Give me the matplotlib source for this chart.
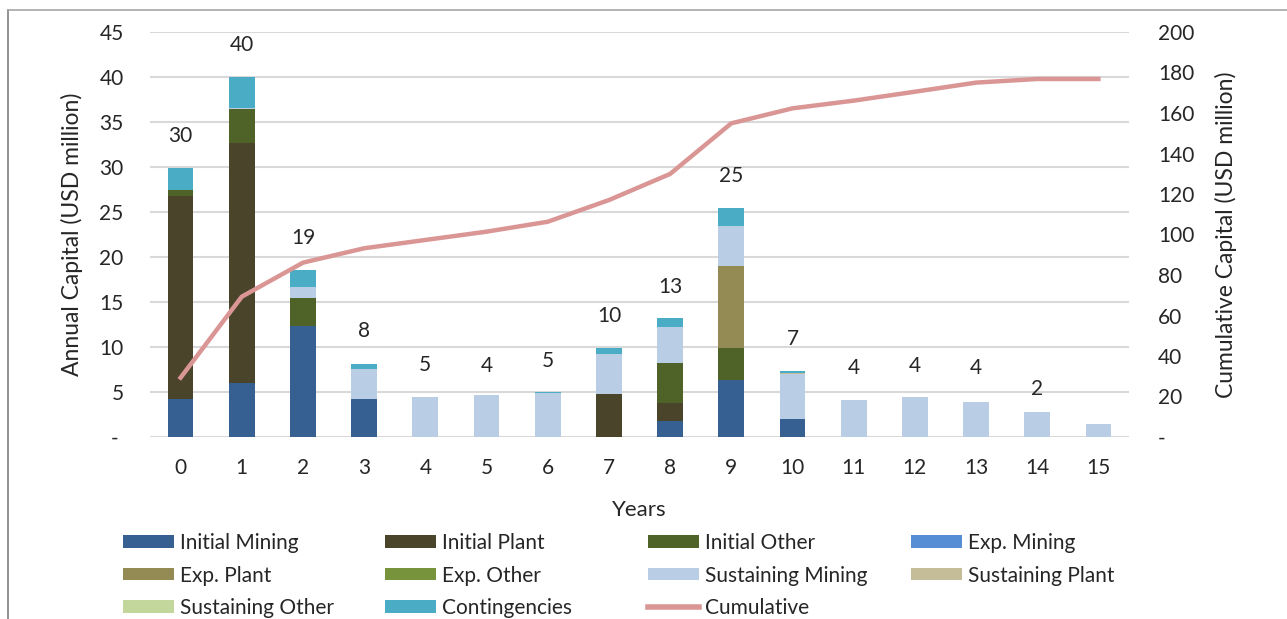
import matplotlib.pyplot as plt
import numpy as np
from matplotlib.lines import Line2D
from matplotlib.patches import Patch

plt.rcParams['font.family'] = ['Lato', 'DejaVu Sans']

years = list(range(16))
initial_mining = [4.2, 6.0, 12.3, 4.2, 0, 0, 0, 0, 1.8, 6.3, 2.0, 0, 0, 0, 0, 0]
initial_plant = [22.6, 26.7, 0, 0, 0, 0, 0, 4.8, 2.0, 0, 0, 0, 0, 0, 0, 0]
initial_other = [0.6, 3.7, 3.1, 0, 0, 0, 0, 0, 4.4, 3.6, 0, 0, 0, 0, 0, 0]
exp_mining = [0] * 16
exp_plant = [0, 0, 0, 0, 0, 0, 0, 0, 0, 9.1, 0, 0, 0, 0, 0, 0]
exp_other = [0] * 16
sust_mining = [0, 0.2, 1.3, 3.4, 4.5, 4.7, 4.85, 4.4, 4.0, 4.5, 5.0, 4.1, 4.4, 3.9, 2.8, 1.4]
sust_plant = [0, 0, 0, 0, 0, 0, 0, 0, 0, 0, 0.15, 0, 0, 0, 0, 0]
sust_other = [0] * 16
contingencies = [2.45, 3.4, 1.85, 0.55, 0, 0, 0.1, 0.65, 1.0, 2.0, 0.2, 0, 0, 0, 0, 0]
cumulative = [29.3, 69.3, 86.1, 93.2, 97.3, 101.4, 106.3, 117.0, 129.9, 154.9,
              162.3, 166.1, 170.5, 175.0, 176.8, 176.8]

label_years = list(range(15))
label_heights = [29.9, 40.0, 18.6, 8.2, 4.45, 4.3, 4.9, 9.85, 13.15, 25.5, 7.3, 4.1, 4.3, 4.1, 1.8]
label_text = ['30', '40', '19', '8', '5', '4', '5', '10', '13', '25', '7', '4', '4', '4', '2']

series = [
    ('Initial Mining', initial_mining, '#376092'),
    ('Initial Plant', initial_plant, '#4A452A'),
    ('Initial Other', initial_other, '#4F6228'),
    ('Exp. Mining', exp_mining, '#558ED5'),
    ('Exp. Plant', exp_plant, '#948A54'),
    ('Exp. Other', exp_other, '#77933C'),
    ('Sustaining Mining', sust_mining, '#B9CDE5'),
    ('Sustaining Plant', sust_plant, '#C4BD97'),
    ('Sustaining Other', sust_other, '#C3D69B'),
    ('Contingencies', contingencies, '#4BACC6'),
]
line_color = '#DA9694'
txt = '#262626'

fig = plt.figure(figsize=(12.87, 6.19), dpi=100)
ax = fig.add_axes([150 / 1287, 1 - 437 / 619, (1129 - 150) / 1287, (437 - 32) / 619])

bottom = np.zeros(16)
handles = {}
for name, vals, col in series:
    vals = np.array(vals, dtype=float)
    ax.bar(years, vals, 0.42, bottom=bottom, color=col, zorder=2)
    bottom += vals
    handles[name] = Patch(facecolor=col, label=name)

for x, h, t in zip(label_years, label_heights, label_text):
    ax.annotate(t, (x, h), xytext=(0, 23), textcoords='offset points',
                ha='center', va='center', fontsize=15, color=txt)

ax.set_xlim(-0.5, 15.5)
ax.set_ylim(0, 45)
ax.set_yticks(np.arange(0, 46, 5))
ax.set_yticklabels(['- '] + [str(v) for v in range(5, 46, 5)])
ax.set_xticks(years)
ax.grid(axis='y', color='#D9D9D9', linewidth=1.5, zorder=0)
ax.set_axisbelow(True)
for s in ax.spines.values():
    s.set_visible(False)
ax.tick_params(axis='both', length=0, labelsize=15, colors=txt)
ax.tick_params(axis='y', pad=19)
ax.tick_params(axis='x', pad=15)
ax.set_xlabel('Years', fontsize=16, color=txt, labelpad=16)
ax.set_ylabel('Annual Capital (USD million)', fontsize=16.5, color=txt, labelpad=12)

ax2 = ax.twinx()
ax2.plot(years, cumulative, color=line_color, linewidth=3.2, zorder=3)
ax2.set_ylim(0, 200)
ax2.set_yticks(np.arange(0, 201, 20))
ax2.set_yticklabels(['-'] + [str(v) for v in range(20, 201, 20)])
for s in ax2.spines.values():
    s.set_visible(False)
ax2.tick_params(axis='y', length=0, labelsize=15, colors=txt, pad=21)
ax2.set_ylabel('Cumulative Capital (USD million)', fontsize=16.5, color=txt, labelpad=15)
handles['Cumulative'] = Line2D([0], [0], color=line_color, linewidth=4, label='Cumulative')

# four legend columns, filled row by row
columns = [
    ['Initial Mining', 'Exp. Plant', 'Sustaining Other'],
    ['Initial Plant', 'Exp. Other', 'Contingencies'],
    ['Initial Other', 'Sustaining Mining', 'Cumulative'],
    ['Exp. Mining', 'Sustaining Plant'],
]
col_x = [123, 385, 648, 911]
for cx, names in zip(col_x, columns):
    leg = fig.legend([handles[n] for n in names], names, loc='upper left',
                     bbox_to_anchor=(cx / 1287, 1 - 533 / 619), frameon=False,
                     fontsize=15, handlelength=2.45, handleheight=0.55,
                     handletextpad=0.3, labelspacing=0.6, borderpad=0,
                     borderaxespad=0)
    for t in leg.get_texts():
        t.set_color(txt)

# outer frame lines on the left and top
fig.add_artist(Line2D([8 / 1287, 8 / 1287], [0, 1 - 10 / 619], color='#7F7F7F', linewidth=1.2))
fig.add_artist(Line2D([8 / 1287, 1], [1 - 10 / 619, 1 - 10 / 619], color='#A6A6A6', linewidth=1.2))

fig.savefig('out.png', dpi=100)
